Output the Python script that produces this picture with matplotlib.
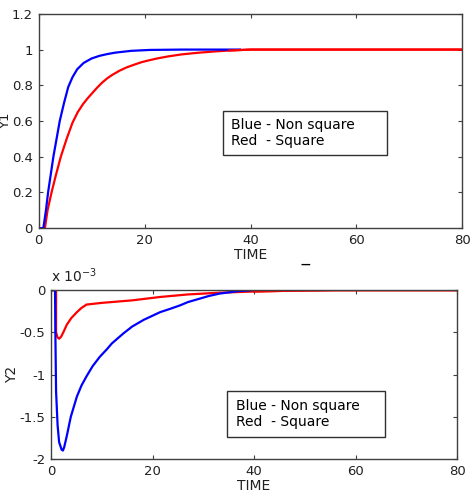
import numpy as np
import matplotlib
matplotlib.use('Agg')
import matplotlib.pyplot as plt
from matplotlib.ticker import FuncFormatter
from matplotlib.patches import Rectangle

plt.rcParams['font.family'] = ['DejaVu Sans']
plt.rcParams['axes.unicode_minus'] = False

# Y1 response
t_blue1 = [0, 0.9, 1.4, 1.8, 2.3, 2.8, 3.4, 4.0, 4.8, 5.6, 6.4, 7.3, 8.5, 10.0, 11.5, 13.0, 14.5, 17.5, 21, 27, 38]
y_blue1 = [0, 0, 0.1, 0.2, 0.3, 0.4, 0.5, 0.6, 0.7, 0.79, 0.845, 0.89, 0.925, 0.95, 0.965, 0.975, 0.983,
           0.993, 0.998, 1.0, 1.0]

t_red1 = [0, 1.2, 1.7, 2.45, 3.3, 4.2, 5.3, 6.4, 7.4, 8.4, 9.2, 10.0, 11.0, 12.0, 13.0, 14.0, 15.3, 16.6, 18.0,
          19.5, 21.0, 22.5, 24.5, 27, 30, 33, 36, 40, 80]
y_red1 = [0, 0, 0.1, 0.2, 0.3, 0.4, 0.5, 0.59, 0.65, 0.695, 0.725, 0.752, 0.785, 0.815, 0.84, 0.86, 0.882, 0.9,
          0.915, 0.93, 0.941, 0.951, 0.962, 0.973, 0.982, 0.989, 0.995, 1.0, 1.0]

# Y2 response, in units of 1e-3
t_blue2 = [0, 0.8, 0.85, 1.0, 1.3, 1.6, 2.1, 2.35, 2.6, 3.1, 3.9, 4.5, 5.1, 6.0, 7.0, 8.2, 9.6, 11, 12, 14.3,
           16, 18.3, 21.5, 23.5, 25.4, 27, 29.3, 31, 33.2, 37, 41, 45.5]
y_blue2 = [0, 0, -0.45, -1.2, -1.6, -1.8, -1.89, -1.9, -1.86, -1.73, -1.5, -1.38, -1.26, -1.13, -1.02, -0.9,
           -0.79, -0.7, -0.63, -0.51, -0.43, -0.35, -0.26, -0.22, -0.18, -0.14, -0.1, -0.07, -0.04, -0.01,
           0.005, 0.005]

t_red2 = [0, 1.0, 1.0, 1.3, 1.6, 2.0, 2.5, 3.1, 4.0, 5.1, 6.0, 7.0, 8.5, 10, 16, 21.5, 27, 33, 40, 48, 56, 80]
y_red2 = [0, 0, -0.5, -0.56, -0.575, -0.55, -0.49, -0.41, -0.33, -0.26, -0.21, -0.17, -0.16, -0.15, -0.12,
          -0.08, -0.05, -0.03, -0.015, -0.005, 0, 0]

legend_text = 'Blue - Non square\nRed  - Square'
fs = 10
spine_col = '#404040'

fig = plt.figure(figsize=(4.7, 4.95), dpi=100)
ax1 = fig.add_axes([0.082, 0.539, 0.902, 0.433])
ax2 = fig.add_axes([0.1085, 0.0727, 0.864, 0.341])

for ax in (ax1, ax2):
    ax.set_xlim(0, 80)
    ax.set_xticks([0, 20, 40, 60, 80])
    ax.tick_params(direction='in', top=True, right=True, length=3,
                   labelsize=9.5, colors=spine_col, labelcolor='#202020', pad=4)
    for s in ax.spines.values():
        s.set_color(spine_col)
        s.set_linewidth(1.0)
    ax.set_xlabel('TIME', fontsize=fs, labelpad=1, color='#202020')

# top panel
ax1.plot(t_red1, y_red1, color='#ff0000', lw=1.6)
ax1.plot(t_blue1, y_blue1, color='#0000ff', lw=1.6)
ax1.plot(t_red1[-3:], y_red1[-3:], color='#ff0000', lw=1.6)
ax1.set_ylim(0, 1.2)
ax1.set_yticks(np.arange(0, 1.21, 0.2))
ax1.yaxis.set_major_formatter(FuncFormatter(lambda v, p: f'{v:g}'))
ax1.set_ylabel('Y1', fontsize=9.5, labelpad=0, color='#202020')
ax1.add_patch(Rectangle((0.434, 0.341), 0.387, 0.206, transform=ax1.transAxes,
                        fill=False, edgecolor='#303030', lw=1.0))
ax1.text(0.455, 0.444, legend_text, transform=ax1.transAxes, fontsize=fs,
         va='center', ha='left', linespacing=1.2)

# bottom panel
ax2.plot(t_red2, np.array(y_red2) * 1e-3, color='#ff0000', lw=1.6)
ax2.plot(t_blue2, np.array(y_blue2) * 1e-3, color='#0000ff', lw=1.6)
ax2.plot(t_red2[-4:], np.array(y_red2[-4:]) * 1e-3, color='#ff0000', lw=1.6)
ax2.set_ylim(-2e-3, 0)
ax2.set_yticks(np.arange(-2e-3, 1e-4, 0.5e-3))
ax2.yaxis.set_major_formatter(FuncFormatter(lambda v, p: f'{round(v * 1e3, 2):g}'))
ax2.set_ylabel('Y2', fontsize=fs, labelpad=0, color='#202020')
ax2.text(0.0, 1.03, r'x 10$^{-3}$', transform=ax2.transAxes, fontsize=fs,
         ha='left', va='bottom', color='#202020')
ax2.add_patch(Rectangle((0.433, 0.132), 0.39, 0.27, transform=ax2.transAxes,
                        fill=False, edgecolor='#303030', lw=1.0))
ax2.text(0.456, 0.267, legend_text, transform=ax2.transAxes, fontsize=fs,
         va='center', ha='left', linespacing=1.2)

# stray dash under the top TIME label
fig.text(305 / 470, 1 - 265 / 495, '\u2014', fontsize=7, fontweight='bold',
         ha='center', va='center', color='black')

fig.savefig('out.png', dpi=100)
